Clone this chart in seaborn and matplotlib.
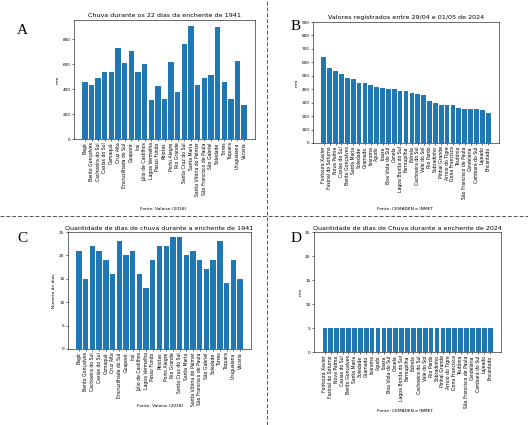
import matplotlib
matplotlib.use("Agg")
import matplotlib.pyplot as plt
from matplotlib.lines import Line2D
import seaborn as sns

# ---------------- data ----------------
cities_1941 = ["Bagé", "Bento Gonçalves", "Cachoeira do Sul", "Caxias do Sul", "Camaquã",
               "Cruz Alta", "Encruzilhada do Sul", "Guaporé", "Iraí", "Júlio de Castilhos",
               "Lagoa Vermelha", "Passo Fundo", "Pelotas", "Porto Alegre", "Rio Grande",
               "Santa Cruz do Sul", "Santa Maria", "Santa Vitória do Palmar",
               "São Francisco de Paula", "São Gabriel", "Soledade", "Torres", "Taquara",
               "Uruguaiana", "Vacaria"]
rain_1941 = [460, 430, 490, 540, 540, 730, 610, 710, 540, 600, 315, 425, 320, 620, 375,
             760, 910, 430, 490, 510, 900, 455, 325, 625, 270]
days_1941 = [21, 15, 22, 21, 19, 16, 23, 20, 21, 16, 13, 19, 22, 22, 24, 24, 20, 21, 19,
             17, 19, 23, 14, 19, 15]

cities_2024 = ["Fontoura Xavier", "Faxinal do Soturno", "Nova Palma", "Caxias do Sul",
               "Bento Gonçalves", "Santa Maria", "Soledade", "Gramado", "Ibarama", "Agudo",
               "Itaara", "Boa Vista do Sul", "Canela", "Lagoa Bonita do Sul", "Farroupilha",
               "Estrela", "Cachoeira do Sul", "Vale do Sol", "Rio Pardo", "Sobradinho",
               "Pinhal Grande", "Arroio do Tigre", "Dona Francisca", "Teutônia",
               "São Francisco de Paula", "Candelária", "Cambará do Sul", "Lajeado",
               "Encantado"]
rain_2024 = [640, 555, 535, 515, 485, 475, 445, 445, 435, 420, 410, 400, 398, 385, 385,
             375, 365, 355, 315, 295, 280, 280, 280, 260, 250, 250, 250, 245, 225]
days_2024 = [5, 5, 5, 5, 5, 5, 5, 5, 5, 5, 5, 5, 5, 5, 5, 5, 5, 5, 5, 5, 5, 5, 5, 5, 5,
             5, 5, 5, 5]

titles = ["Chuva durante os 22 dias da enchente de 1941",
          "Valores registrados entre 29/04 e 01/05 de 2024",
          "Quantidade de dias de chuva durante a enchente de 1941",
          "Quantidade de dias de Chuva durante a enchente de 2024"]
ylabels = ["mm", "mm", "Número de dias", "mm"]
sources = ["Fonte: Valoise (2018)", "Fonte: CEMADEN e INMET",
           "Fonte: Valoise (2018)", "Fonte: CEMADEN e INMET"]
letters = ["A", "B", "C", "D"]

# ---------------- figure ----------------
W, H = 528, 425
fig = plt.figure(figsize=(W / 100, H / 100), dpi=100)
fig.patch.set_facecolor("white")

def px_axes(left, top, right, bottom):
    return fig.add_axes([left / W, 1 - bottom / H, (right - left) / W, (bottom - top) / H])

axes = [px_axes(74, 20, 255, 139),
        px_axes(313, 22, 499, 143),
        px_axes(68, 232, 251, 349),
        px_axes(314, 232, 501, 352)]

panels = [(cities_1941, rain_1941), (cities_2024, rain_2024),
          (cities_1941, days_1941), (cities_2024, days_2024)]
ylims = [None, (0, 900), (0, 25), (0, 25)]
yticks = [[0, 200, 400, 600, 800], list(range(0, 901, 100)),
          list(range(0, 26, 5)), list(range(0, 26, 5))]

for i, (ax, (cats, vals)) in enumerate(zip(axes, panels)):
    sns.barplot(x=cats, y=vals, ax=ax, color="#1f77b4", saturation=1,
                width=0.8, linewidth=0, order=cats)
    n = len(cats)
    span = (n - 0.6) - (-0.4)
    ax.set_xlim(-0.4 - 0.05 * span, n - 0.6 + 0.05 * span)
    if ylims[i] is not None:
        ax.set_ylim(*ylims[i])
    else:
        ax.set_ylim(0, max(vals) * 1.05)
    ax.set_yticks(yticks[i])
    ax.set_title(titles[i], fontsize=4.6, pad=2)
    ax.set_ylabel(ylabels[i], fontsize=3.2, labelpad=2)
    ax.set_xlabel("")
    ax.tick_params(axis="x", labelrotation=90, labelsize=3.3, length=1.5, width=0.4, pad=1)
    ax.tick_params(axis="y", labelsize=3.1, length=1.5, width=0.4, pad=1)
    for s in ax.spines.values():
        s.set_linewidth(0.5)
        s.set_color("#333333")

# sources
src_pos = [(163, 209), (405, 209), (160, 406), (405, 411)]
for (x, y), s in zip(src_pos, sources):
    fig.text(x / W, 1 - y / H, s, fontsize=3.2, ha="center", va="center")

# letters
let_pos = [(22, 30), (296, 27), (22, 238), (296, 238)]
for (x, y), s in zip(let_pos, letters):
    fig.text(x / W, 1 - y / H, s, fontsize=11, ha="center", va="center",
             family="Liberation Serif")

# dashed separators
fig.add_artist(Line2D([0, 1], [1 - 216 / H, 1 - 216 / H], transform=fig.transFigure,
                      color="#555555", linewidth=0.7, linestyle=(0, (4, 2))))
fig.add_artist(Line2D([267 / W, 267 / W], [0, 1], transform=fig.transFigure,
                      color="#555555", linewidth=0.7, linestyle=(0, (4, 2))))

fig.savefig("out.png", dpi=100, facecolor="white")
